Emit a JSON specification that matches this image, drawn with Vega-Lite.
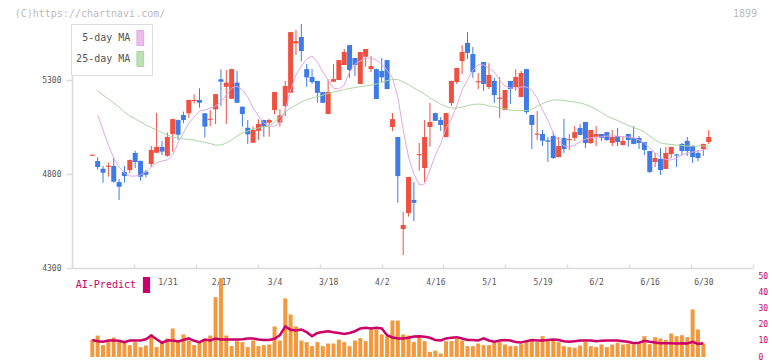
{
"$schema": "https://vega.github.io/schema/vega-lite/v6.json",
"autosize": {"type": "pad"},
"padding": {"left": 14, "top": 8, "right": 0, "bottom": 0},
"background": "white",
"config": {"view": {"stroke": null}, "font": "DejaVu Sans Mono", "axis": {"labelFont": "DejaVu Sans Mono", "labelOverlap": false}, "legend": {"labelFont": "DejaVu Sans Mono"}},
"title": {"text": "(C)https://chartnavi.com/", "anchor": "start", "frame": "bounds", "dx": -27, "offset": -10, "fontSize": 10, "fontWeight": "normal", "color": "#bbbbbb", "font": "DejaVu Sans Mono"},
"resolve": {"scale": {"color": "independent", "stroke": "independent"}, "legend": {"color": "independent", "stroke": "independent"}},
"spacing": 0,
"datasets": {"p": [
{"d":"1/9","o":4897,"h":4903,"l":4897,"c":4903},
{"d":"1/10","o":4869,"h":4890,"l":4823,"c":4837,"m5":5114,"m25":5242,"v":10.9,"ai":10.6},
{"d":"1/14","o":4828,"h":4843,"l":4754,"c":4807,"m5":5034,"m25":5220,"v":13.4,"ai":9.9},
{"d":"1/15","o":4838,"h":4861,"l":4786,"c":4844,"m5":4954,"m25":5199,"v":7.4,"ai":9.5},
{"d":"1/16","o":4843,"h":4890,"l":4754,"c":4759,"m5":4885,"m25":5178,"v":9.5,"ai":10.3},
{"d":"1/17","o":4757,"h":4773,"l":4662,"c":4732,"m5":4837,"m25":5156,"v":12.2,"ai":10.3},
{"d":"1/20","o":4811,"h":4843,"l":4754,"c":4789,"m5":4805,"m25":5130,"v":9.9,"ai":10.1},
{"d":"1/21","o":4821,"h":4878,"l":4805,"c":4874,"m5":4789,"m25":5109,"v":9.9,"ai":9.3},
{"d":"1/22","o":4912,"h":4924,"l":4832,"c":4864,"m5":4789,"m25":5093,"v":7.4,"ai":10.3},
{"d":"1/23","o":4869,"h":4872,"l":4764,"c":4786,"m5":4795,"m25":5077,"v":9.3,"ai":10.3},
{"d":"1/24","o":4812,"h":4821,"l":4782,"c":4796,"m5":4811,"m25":5061,"v":6.2,"ai":10.3},
{"d":"1/27","o":4853,"h":4949,"l":4837,"c":4928,"m5":4837,"m25":5047,"v":7.2,"ai":11.1},
{"d":"1/28","o":4913,"h":5124,"l":4911,"c":4944,"m5":4859,"m25":5034,"v":14.1,"ai":13.4},
{"d":"1/29","o":4944,"h":4975,"l":4901,"c":4919,"m5":4869,"m25":5021,"v":6.2,"ai":11.1},
{"d":"1/30","o":4897,"h":5021,"l":4892,"c":4997,"m5":4875,"m25":5007,"v":9.9,"ai":8.9},
{"d":"1/31","o":5013,"h":5094,"l":4919,"c":5092,"m5":4901,"m25":4997,"v":11.6,"ai":10.3},
{"d":"2/3","o":5087,"h":5089,"l":4981,"c":5009,"m5":4965,"m25":4992,"v":17.8,"ai":10.3},
{"d":"2/4","o":5114,"h":5132,"l":5070,"c":5087,"m5":5018,"m25":4986,"v":9.9,"ai":9.7},
{"d":"2/5","o":5123,"h":5195,"l":5098,"c":5194,"m5":5071,"m25":4984,"v":14.1,"ai":10.6},
{"d":"2/6","o":5188,"h":5224,"l":5176,"c":5194,"m5":5103,"m25":4981,"v":10.3,"ai":11.6},
{"d":"2/7","o":5194,"h":5256,"l":5153,"c":5179,"m5":5135,"m25":4973,"v":7.4,"ai":10.1},
{"d":"2/10","o":5123,"h":5124,"l":4994,"c":5052,"m5":5140,"m25":4968,"v":8.9,"ai":9.3},
{"d":"2/12","o":5088,"h":5140,"l":5054,"c":5094,"m5":5151,"m25":4962,"v":10.9,"ai":10.9},
{"d":"2/13","o":5144,"h":5226,"l":5066,"c":5225,"m5":5162,"m25":4954,"v":13.4,"ai":10.3},
{"d":"2/14","o":5304,"h":5357,"l":5162,"c":5291,"m5":5183,"m25":4954,"v":37.4,"ai":11.6},
{"d":"2/17","o":5264,"h":5353,"l":5066,"c":5286,"m5":5220,"m25":4965,"v":49.1,"ai":10.9},
{"d":"2/18","o":5200,"h":5360,"l":5199,"c":5358,"m5":5257,"m25":4981,"v":13.4,"ai":10.9},
{"d":"2/19","o":5286,"h":5349,"l":5178,"c":5179,"m5":5268,"m25":5002,"v":6.8,"ai":10.9},
{"d":"2/20","o":5158,"h":5159,"l":5052,"c":5119,"m5":5247,"m25":5018,"v":9.9,"ai":10.9},
{"d":"2/21","o":5046,"h":5087,"l":4960,"c":5011,"m5":5210,"m25":5029,"v":9.3,"ai":11.1},
{"d":"2/25","o":4966,"h":5052,"l":4965,"c":5034,"m5":5151,"m25":5039,"v":6.2,"ai":11.6},
{"d":"2/26","o":5030,"h":5091,"l":4981,"c":5066,"m5":5109,"m25":5045,"v":10.3,"ai":11.6},
{"d":"2/27","o":5087,"h":5088,"l":4998,"c":5052,"m5":5071,"m25":5050,"v":6.8,"ai":10.9},
{"d":"2/28","o":5073,"h":5094,"l":4998,"c":5087,"m5":5055,"m25":5055,"v":7.4,"ai":10.6},
{"d":"3/3","o":5140,"h":5237,"l":5119,"c":5236,"m5":5055,"m25":5077,"v":7.8,"ai":10.6},
{"d":"3/4","o":5073,"h":5144,"l":5052,"c":5112,"m5":5071,"m25":5103,"v":19.1,"ai":11.4},
{"d":"3/5","o":5162,"h":5295,"l":5108,"c":5268,"m5":5140,"m25":5130,"v":10.3,"ai":13.6},
{"d":"3/6","o":5232,"h":5556,"l":5231,"c":5555,"m5":5247,"m25":5151,"v":36.6,"ai":19.1},
{"d":"3/7","o":5495,"h":5566,"l":5433,"c":5507,"m5":5327,"m25":5167,"v":26.6,"ai":17.0},
{"d":"3/10","o":5529,"h":5598,"l":5401,"c":5454,"m5":5374,"m25":5183,"v":19.1,"ai":16.5},
{"d":"3/11","o":5358,"h":5385,"l":5264,"c":5314,"m5":5412,"m25":5196,"v":10.3,"ai":17.2},
{"d":"3/12","o":5316,"h":5358,"l":5279,"c":5289,"m5":5428,"m25":5204,"v":9.3,"ai":15.5},
{"d":"3/13","o":5295,"h":5296,"l":5179,"c":5232,"m5":5396,"m25":5210,"v":6.8,"ai":13.0},
{"d":"3/14","o":5236,"h":5237,"l":5178,"c":5179,"m5":5343,"m25":5220,"v":9.3,"ai":15.0},
{"d":"3/17","o":5119,"h":5304,"l":5118,"c":5236,"m5":5300,"m25":5228,"v":6.8,"ai":15.6},
{"d":"3/18","o":5291,"h":5385,"l":5290,"c":5305,"m5":5257,"m25":5236,"v":8.4,"ai":16.1},
{"d":"3/19","o":5300,"h":5407,"l":5299,"c":5406,"m5":5252,"m25":5242,"v":8.4,"ai":15.5},
{"d":"3/21","o":5380,"h":5465,"l":5379,"c":5449,"m5":5273,"m25":5249,"v":10.9,"ai":15.0},
{"d":"3/24","o":5486,"h":5487,"l":5312,"c":5353,"m5":5343,"m25":5255,"v":9.3,"ai":14.4},
{"d":"3/25","o":5417,"h":5418,"l":5321,"c":5380,"m5":5385,"m25":5260,"v":6.8,"ai":15.0},
{"d":"3/26","o":5279,"h":5450,"l":5278,"c":5449,"m5":5401,"m25":5265,"v":10.3,"ai":16.1},
{"d":"3/27","o":5424,"h":5466,"l":5371,"c":5465,"m5":5417,"m25":5268,"v":11.8,"ai":17.8},
{"d":"3/28","o":5358,"h":5428,"l":5342,"c":5374,"m5":5417,"m25":5273,"v":9.9,"ai":18.2},
{"d":"3/31","o":5358,"h":5360,"l":5198,"c":5199,"m5":5406,"m25":5279,"v":17.2,"ai":17.8},
{"d":"4/1","o":5348,"h":5417,"l":5289,"c":5314,"m5":5385,"m25":5287,"v":17.2,"ai":18.2},
{"d":"4/2","o":5406,"h":5407,"l":5251,"c":5252,"m5":5353,"m25":5297,"v":14.1,"ai":17.8},
{"d":"4/3","o":5050,"h":5124,"l":5029,"c":5092,"m5":5311,"m25":5303,"v":13.0,"ai":13.6},
{"d":"4/4","o":4997,"h":4998,"l":4647,"c":4789,"m5":5210,"m25":5303,"v":22.8,"ai":12.2},
{"d":"4/7","o":4507,"h":4598,"l":4369,"c":4529,"m5":5034,"m25":5289,"v":22.8,"ai":11.6},
{"d":"4/8","o":4592,"h":4785,"l":4573,"c":4784,"m5":4890,"m25":5276,"v":14.1,"ai":11.6},
{"d":"4/9","o":4662,"h":4757,"l":4550,"c":4647,"m5":4800,"m25":5257,"v":13.4,"ai":12.0},
{"d":"4/10","o":4900,"h":4965,"l":4818,"c":4906,"m5":4742,"m25":5242,"v":9.3,"ai":12.8},
{"d":"4/11","o":4832,"h":5087,"l":4757,"c":4997,"m5":4747,"m25":5226,"v":13.4,"ai":13.0},
{"d":"4/14","o":5050,"h":5178,"l":4945,"c":5077,"m5":4821,"m25":5204,"v":9.9,"ai":12.6},
{"d":"4/15","o":5124,"h":5126,"l":5082,"c":5083,"m5":4901,"m25":5188,"v":3.2,"ai":12.0},
{"d":"4/16","o":5087,"h":5103,"l":5029,"c":5061,"m5":4960,"m25":5172,"v":4.0,"ai":10.6},
{"d":"4/17","o":4997,"h":5126,"l":4995,"c":5124,"m5":5045,"m25":5159,"v":2.2,"ai":10.3},
{"d":"4/18","o":5178,"h":5296,"l":5162,"c":5295,"m5":5093,"m25":5151,"v":9.9,"ai":11.6},
{"d":"4/21","o":5289,"h":5365,"l":5279,"c":5364,"m5":5162,"m25":5151,"v":9.9,"ai":12.0},
{"d":"4/22","o":5401,"h":5486,"l":5332,"c":5449,"m5":5247,"m25":5156,"v":11.6,"ai":12.4},
{"d":"4/23","o":5497,"h":5555,"l":5412,"c":5444,"m5":5300,"m25":5164,"v":10.3,"ai":11.6},
{"d":"4/24","o":5438,"h":5476,"l":5311,"c":5342,"m5":5353,"m25":5170,"v":6.8,"ai":10.6},
{"d":"4/25","o":5288,"h":5337,"l":5252,"c":5294,"m5":5380,"m25":5172,"v":6.8,"ai":10.6},
{"d":"4/28","o":5396,"h":5397,"l":5242,"c":5279,"m5":5380,"m25":5170,"v":8.4,"ai":10.3},
{"d":"4/30","o":5263,"h":5389,"l":5252,"c":5327,"m5":5364,"m25":5162,"v":7.4,"ai":11.6},
{"d":"5/1","o":5295,"h":5311,"l":5178,"c":5220,"m5":5343,"m25":5159,"v":7.4,"ai":10.3},
{"d":"5/2","o":5200,"h":5316,"l":5098,"c":5206,"m5":5300,"m25":5151,"v":9.3,"ai":9.5},
{"d":"5/7","o":5140,"h":5248,"l":5139,"c":5247,"m5":5268,"m25":5146,"v":9.3,"ai":10.3},
{"d":"5/8","o":5295,"h":5296,"l":5172,"c":5252,"m5":5257,"m25":5140,"v":7.8,"ai":10.6},
{"d":"5/9","o":5263,"h":5358,"l":5242,"c":5316,"m5":5257,"m25":5138,"v":6.8,"ai":10.3},
{"d":"5/12","o":5210,"h":5348,"l":5208,"c":5337,"m5":5263,"m25":5137,"v":6.8,"ai":9.3},
{"d":"5/13","o":5358,"h":5360,"l":5119,"c":5130,"m5":5263,"m25":5137,"v":8.0,"ai":9.1},
{"d":"5/14","o":5114,"h":5115,"l":4933,"c":5061,"m5":5247,"m25":5146,"v":9.9,"ai":9.9},
{"d":"5/15","o":5009,"h":5135,"l":4981,"c":5015,"m5":5204,"m25":5159,"v":9.9,"ai":10.6},
{"d":"5/16","o":5013,"h":5034,"l":4949,"c":4977,"m5":5140,"m25":5175,"v":9.3,"ai":10.3},
{"d":"5/19","o":4979,"h":4997,"l":4864,"c":4972,"m5":5087,"m25":5186,"v":13.0,"ai":10.3},
{"d":"5/20","o":5002,"h":5023,"l":4880,"c":4885,"m5":5018,"m25":5194,"v":9.9,"ai":10.6},
{"d":"5/21","o":4890,"h":4997,"l":4889,"c":4949,"m5":4976,"m25":5194,"v":10.3,"ai":10.9},
{"d":"5/22","o":4992,"h":5093,"l":4912,"c":4933,"m5":4949,"m25":5191,"v":9.3,"ai":10.6},
{"d":"5/23","o":4980,"h":5013,"l":4928,"c":4986,"m5":4944,"m25":5186,"v":6.8,"ai":9.9},
{"d":"5/26","o":4992,"h":5055,"l":4976,"c":5023,"m5":4954,"m25":5183,"v":6.2,"ai":9.5},
{"d":"5/27","o":5045,"h":5066,"l":5006,"c":5008,"m5":4970,"m25":5178,"v":5.8,"ai":9.9},
{"d":"5/28","o":5077,"h":5078,"l":4938,"c":4965,"m5":4986,"m25":5170,"v":7.2,"ai":10.3},
{"d":"5/29","o":4965,"h":5035,"l":4960,"c":5034,"m5":4992,"m25":5159,"v":9.3,"ai":10.3},
{"d":"5/30","o":4997,"h":5055,"l":4949,"c":5013,"m5":4997,"m25":5143,"v":6.8,"ai":10.3},
{"d":"6/2","o":5013,"h":5014,"l":4976,"c":4992,"m5":4997,"m25":5127,"v":6.2,"ai":9.9},
{"d":"6/3","o":5023,"h":5024,"l":4976,"c":4981,"m5":5002,"m25":5109,"v":7.8,"ai":10.1},
{"d":"6/4","o":4965,"h":5034,"l":4949,"c":4997,"m5":5002,"m25":5095,"v":6.2,"ai":10.3},
{"d":"6/5","o":5002,"h":5045,"l":4949,"c":4970,"m5":5002,"m25":5085,"v":7.8,"ai":10.3},
{"d":"6/6","o":4954,"h":5002,"l":4953,"c":4976,"m5":4997,"m25":5071,"v":8.9,"ai":10.3},
{"d":"6/9","o":5013,"h":5014,"l":4945,"c":4981,"m5":4997,"m25":5058,"v":7.8,"ai":9.9},
{"d":"6/10","o":4992,"h":5055,"l":4958,"c":4960,"m5":4992,"m25":5047,"v":8.4,"ai":9.5},
{"d":"6/11","o":4992,"h":5002,"l":4933,"c":4965,"m5":4981,"m25":5037,"v":7.8,"ai":8.6},
{"d":"6/12","o":4970,"h":4971,"l":4901,"c":4928,"m5":4965,"m25":5023,"v":8.4,"ai":8.9},
{"d":"6/13","o":4922,"h":4923,"l":4805,"c":4811,"m5":4938,"m25":5002,"v":13.0,"ai":10.1},
{"d":"6/16","o":4864,"h":4912,"l":4837,"c":4885,"m5":4912,"m25":4981,"v":8.0,"ai":9.5},
{"d":"6/17","o":4880,"h":4938,"l":4795,"c":4821,"m5":4890,"m25":4965,"v":12.4,"ai":9.1},
{"d":"6/18","o":4827,"h":4944,"l":4826,"c":4912,"m5":4877,"m25":4960,"v":11.6,"ai":8.6},
{"d":"6/19","o":4906,"h":4945,"l":4885,"c":4944,"m5":4875,"m25":4957,"v":10.7,"ai":8.6},
{"d":"6/20","o":4904,"h":4907,"l":4837,"c":4898,"m5":4885,"m25":4954,"v":14.7,"ai":8.6},
{"d":"6/23","o":4960,"h":4965,"l":4901,"c":4922,"m5":4901,"m25":4952,"v":13.0,"ai":8.4},
{"d":"6/24","o":4976,"h":4997,"l":4896,"c":4922,"m5":4912,"m25":4949,"v":13.6,"ai":8.6},
{"d":"6/25","o":4949,"h":4950,"l":4859,"c":4890,"m5":4917,"m25":4949,"v":12.4,"ai":8.4},
{"d":"6/26","o":4912,"h":4928,"l":4869,"c":4885,"m5":4920,"m25":4949,"v":29.7,"ai":9.5},
{"d":"6/27","o":4933,"h":4961,"l":4896,"c":4960,"m5":4928,"m25":4949,"v":17.2,"ai":8.2},
{"d":"6/30","o":4970,"h":5034,"l":4960,"c":4997,"m5":4936,"m25":4949,"v":8.4,"ai":8.6}
]},
"data": {"name": "p"},
"vconcat": [
{
"width": 681, "height": 244,
"title": {"text": "1899", "anchor": "end", "frame": "group", "dx": 4, "offset": 5, "fontSize": 10, "fontWeight": "normal", "color": "#bbbbbb", "font": "DejaVu Sans Mono"},
"resolve": {"scale": {"x": "independent"}, "axis": {"x": "independent"}},
"layer": [
{"mark": {"type": "rule", "strokeWidth": 1},
 "encoding": {
  "x": {"field": "d", "type": "ordinal", "sort": null, "scale": {"type": "point", "range": [20.3, 636.7], "padding": 0}, "axis": null},
  "y": {"field": "l", "type": "quantitative", "title": null, "scale": {"domain": [4300, 5598], "nice": false, "zero": false},
        "axis": {"values": [4300, 4800, 5300], "format": "d", "title": null, "grid": false, "domainColor": "#dcdcdc", "domainWidth": 1.5, "tickColor": "#dcdcdc", "tickSize": 6, "tickWidth": 1.5, "labelColor": "#555555", "labelFontSize": 8, "labelPadding": 5}},
  "y2": {"field": "h"},
  "color": {"condition": {"test": "datum.c >= datum.o", "value": "#ef5040"}, "value": "#3e7be6"}
 }},
{"mark": {"type": "bar", "width": 5},
 "encoding": {
  "x": {"field": "d", "type": "ordinal", "sort": null, "scale": {"type": "point", "range": [20.3, 636.7], "padding": 0}, "axis": null},
  "y": {"field": "o", "type": "quantitative", "title": null},
  "y2": {"field": "c"},
  "color": {"condition": {"test": "datum.c >= datum.o", "value": "#ef5040"}, "value": "#3e7be6"}
 }},
{"transform": [{"fold": ["m5", "m25"], "as": ["k", "val"]}],
 "mark": {"type": "line", "strokeWidth": 1},
 "encoding": {
  "x": {"field": "d", "type": "ordinal", "sort": null, "scale": {"type": "point", "range": [20.3, 636.7], "padding": 0}, "axis": null},
  "y": {"field": "val", "type": "quantitative", "title": null},
  "color": {"field": "k", "type": "nominal", "scale": {"domain": ["m5", "m25"], "range": ["#e3a8e3", "#acd6a2"]},
   "legend": {"orient": "none", "legendX": -1, "legendY": 0, "title": null, "direction": "vertical",
    "symbolType": "M-0.45,-1H0.45V1H-0.45Z", "symbolSize": 225, "symbolStrokeColor": "#555555", "symbolStrokeWidth": 1,
    "symbolOffset": 55.3, "labelAlign": "right", "labelOffset": -18, "labelFontSize": 10, "labelColor": "#555555",
    "labelExpr": "datum.label == 'm5' ? '5-day MA' : '25-day MA'", "rowPadding": 1, "padding": 6,
    "strokeColor": "#dddddd", "fillColor": "white",
    "encode": {"symbols": {"update": {"fill": {"signal": "datum.value == 'm5' ? '#ecbcec' : '#bde0b4'"}, "fillOpacity": {"value": 1}, "opacity": {"value": 1}}}}}}
 }},
{"mark": {"type": "rule", "opacity": 0},
 "encoding": {
  "x": {"datum": 0, "type": "quantitative", "scale": {"domain": [0, 11], "nice": false, "zero": false},
        "axis": {"orient": "bottom", "values": [0,1,2,3,4,5,6,7,8,9,10,11], "labels": false, "title": null, "grid": false, "domainColor": "#dcdcdc", "domainWidth": 1.5, "tickColor": "#dcdcdc", "tickSize": -4, "tickWidth": 1.5}}
 }}
]
},
{
"width": 681, "height": 85,
"layer": [
{"mark": {"type": "bar", "width": 4, "color": "#f4983e"},
 "encoding": {
  "x": {"field": "d", "type": "ordinal", "sort": null, "scale": {"type": "point", "range": [20.3, 636.7], "padding": 0},
        "axis": {"orient": "top", "values": ["1/31","2/17","3/4","3/18","4/2","4/16","5/1","5/19","6/2","6/16","6/30"], "domain": false, "ticks": false, "labelAngle": 0, "labelColor": "#555555", "labelFontSize": 8, "labelPadding": 0, "offset": -14, "title": null, "grid": false}},
  "y": {"field": "v", "type": "quantitative", "title": null, "scale": {"domain": [0, 53.1], "nice": false, "zero": true},
        "axis": {"orient": "right", "values": [0,10,20,30,40,50], "labelOverlap": false, "title": null, "grid": false, "domain": false, "ticks": false, "labelColor": "#cc0066", "labelFontSize": 8, "labelPadding": 5}}
 }},
{"mark": {"type": "line", "strokeWidth": 2.5},
 "encoding": {
  "x": {"field": "d", "type": "ordinal", "sort": null},
  "y": {"field": "ai", "type": "quantitative", "title": null,
        "axis": {"orient": "right", "values": [0,10,20,30,40,50], "labelOverlap": false, "title": null, "grid": false, "domain": false, "ticks": false, "labelColor": "#cc0066", "labelFontSize": 8, "labelPadding": 5}},
  "stroke": {"datum": "AI-Predict", "type": "nominal", "scale": {"range": ["#cc0066"]},
   "legend": {"orient": "none", "legendX": 3.8, "legendY": 5, "title": null, "symbolType": "M-0.45,-1H0.45V1H-0.45Z", "symbolSize": 256,
    "symbolStrokeWidth": 0, "symbolOffset": 62.7, "labelAlign": "right", "labelOffset": -18.5, "labelColor": "#cc0066", "labelFontSize": 10, "padding": 0,
    "encode": {"symbols": {"update": {"fill": {"value": "#cc0066"}, "fillOpacity": {"value": 1}, "opacity": {"value": 1}}}}}}
 }}
]
}
]
}
